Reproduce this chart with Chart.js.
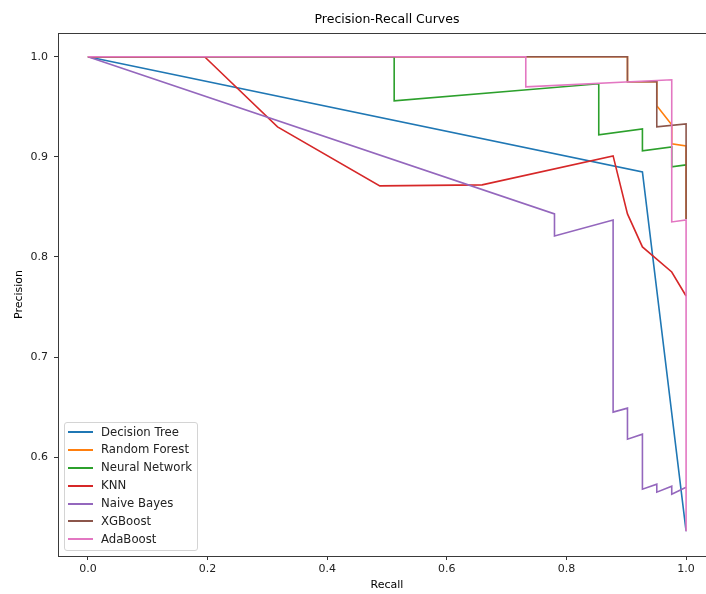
<!DOCTYPE html>
<html>
<head>
<meta charset="utf-8">
<script src="https://cdn.jsdelivr.net/npm/chart.js@4.4.1/dist/chart.umd.min.js"></script>
<style>
  html, body { margin: 0; padding: 0; background: #fff; overflow: hidden; width: 706px; height: 594px; }
  #wrap { position: relative; width: 720px; height: 594px; }
  #legend {
    position: absolute; left: 64px; top: 422px; width: 132px;
    border: 1px solid #d4d4d4; border-radius: 3px; background: rgba(255,255,255,0.8);
    padding: 0.5px 0 1.5px 0;
    font-family: "DejaVu Sans", sans-serif; font-size: 11.7px; color: #222;
  }
  #legend .row { height: 17.9px; line-height: 17.9px; white-space: nowrap; }
  #legend .sw { display: inline-block; width: 25px; height: 2px; margin: 0 8px 0 3px; vertical-align: middle; }
</style>
</head>
<body>
<div id="wrap">
  <canvas id="prChart" width="720" height="594"></canvas>
  <div id="legend"></div>
</div>
<script>
// series names and colours (matplotlib tab10)
const seriesNames = ['Decision Tree', 'Random Forest', 'Neural Network', 'KNN', 'Naive Bayes', 'XGBoost', 'AdaBoost'];
const seriesColors = ['#1f77b4', '#ff7f0e', '#2ca02c', '#d62728', '#9467bd', '#8c564b', '#e377c2'];

// recall / precision pairs
const dtRecall = [0, 0.927, 1.0];
const dtPrecision = [1.0, 0.885, 0.526];

const rfRecall = [0, 0.902, 0.902, 0.951, 0.951, 0.976, 0.976, 1.0, 1.0];
const rfPrecision = [1.0, 1.0, 0.975, 0.975, 0.951, 0.932, 0.913, 0.911, 0.838];

const nnRecall = [0, 0.512, 0.512, 0.854, 0.854, 0.927, 0.927, 0.976, 0.976, 1.0];
const nnPrecision = [1.0, 1.0, 0.956, 0.973, 0.922, 0.928, 0.906, 0.910, 0.890, 0.892];

const knnRecall = [0, 0.195, 0.317, 0.488, 0.659, 0.878, 0.902, 0.927, 0.976, 1.0];
const knnPrecision = [1.0, 1.0, 0.930, 0.871, 0.872, 0.901, 0.843, 0.810, 0.785, 0.761];

const nbRecall = [0, 0.780, 0.780, 0.878, 0.878, 0.902, 0.902, 0.927, 0.927, 0.951, 0.951, 0.976, 0.976, 1.0];
const nbPrecision = [1.0, 0.843, 0.821, 0.837, 0.645, 0.649, 0.618, 0.623, 0.568, 0.573, 0.565, 0.571, 0.563, 0.570];

const xgbRecall = [0, 0.902, 0.902, 0.951, 0.951, 1.0, 1.0];
const xgbPrecision = [1.0, 1.0, 0.975, 0.975, 0.930, 0.933, 0.838];

const adaRecall = [0, 0.732, 0.732, 0.976, 0.976, 1.0, 1.0];
const adaPrecision = [1.0, 1.0, 0.970, 0.977, 0.835, 0.837, 0.526];

const xTicks = [0.0, 0.2, 0.4, 0.6, 0.8, 1.0];
const yTicks = [0.6, 0.7, 0.8, 0.9, 1.0];

const chartTitle = 'Precision-Recall Curves';

const allRecall = [dtRecall, rfRecall, nnRecall, knnRecall, nbRecall, xgbRecall, adaRecall];
const allPrecision = [dtPrecision, rfPrecision, nnPrecision, knnPrecision, nbPrecision, xgbPrecision, adaPrecision];

const datasets = seriesNames.map((name, i) => ({
  label: name,
  data: allRecall[i].map((r, j) => ({ x: r, y: allPrecision[i][j] })),
  borderColor: seriesColors[i],
  backgroundColor: seriesColors[i],
  borderWidth: 1.6,
  pointRadius: 0,
  tension: 0,
  fill: false,
  order: seriesNames.length - i   // later series drawn on top, like matplotlib
}));

// matplotlib style frame round the plot area, title centred over the axes
const framePlugin = {
  id: 'frame',
  afterDraw(chart) {
    const a = chart.chartArea;
    const c = chart.ctx;
    c.save();
    c.strokeStyle = '#3a3a3a';
    c.lineWidth = 1;
    c.strokeRect(Math.round(a.left) + 0.5, Math.round(a.top) + 0.5,
                 Math.round(a.right - a.left), Math.round(a.bottom - a.top));
    c.fillStyle = '#000';
    c.font = '12.5px "DejaVu Sans", sans-serif';
    c.textAlign = 'center';
    c.textBaseline = 'middle';
    c.fillText(chartTitle, (a.left + a.right) / 2, a.top - 13.5);
    c.restore();
  }
};

const font = { family: '"DejaVu Sans", sans-serif', size: 11 };

new Chart(document.getElementById('prChart').getContext('2d'), {
  type: 'line',
  data: { datasets: datasets },
  options: {
    responsive: false,
    animation: false,
    devicePixelRatio: 1,
    layout: { padding: { left: 0, right: 4, top: 33, bottom: 0 } },
    plugins: {
      legend: { display: false },
      tooltip: { enabled: false },
      title: { display: false }
    },
    scales: {
      x: {
        type: 'linear',
        min: -0.05,
        max: 1.05,
        afterFit(scale) { scale.height = 38; },
        afterBuildTicks(scale) { scale.ticks = xTicks.map(v => ({ value: v })); },
        grid: { drawOnChartArea: false, drawTicks: true, tickLength: 4, color: '#333' },
        border: { display: false },
        ticks: {
          color: '#222', font: font, padding: 3, autoSkip: false, maxRotation: 0,
          callback: v => v.toFixed(1)
        },
        title: { display: true, text: 'Recall', color: '#000', font: font, padding: { top: 0, bottom: 2 } }
      },
      y: {
        type: 'linear',
        min: 0.50125,
        max: 1.02375,
        afterFit(scale) { scale.width = 58; },
        afterBuildTicks(scale) { scale.ticks = yTicks.map(v => ({ value: v })); },
        grid: { drawOnChartArea: false, drawTicks: true, tickLength: 4, color: '#333' },
        border: { display: false },
        ticks: {
          color: '#222', font: font, padding: 6, autoSkip: false,
          callback: v => v.toFixed(1)
        },
        title: { display: true, text: 'Precision', color: '#000', font: font, padding: { top: 13, bottom: 0 } }
      }
    }
  },
  plugins: [framePlugin]
});

// legend box in the lower left, as matplotlib places it
const legendBox = document.getElementById('legend');
seriesNames.forEach((name, i) => {
  const row = document.createElement('div');
  row.className = 'row';
  const sw = document.createElement('span');
  sw.className = 'sw';
  sw.style.background = seriesColors[i];
  row.appendChild(sw);
  row.appendChild(document.createTextNode(name));
  legendBox.appendChild(row);
});
</script>
</body>
</html>
